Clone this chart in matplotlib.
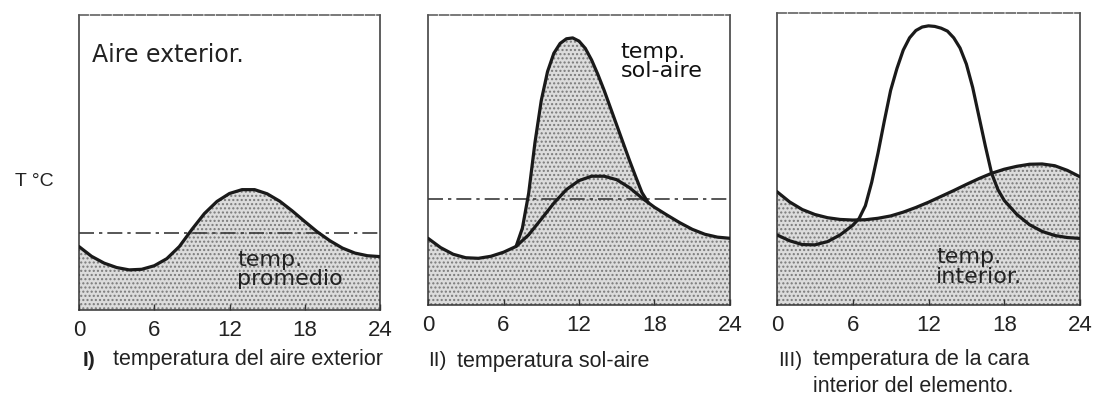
import matplotlib
matplotlib.use("Agg")
import matplotlib.pyplot as plt

# ---------------- data ----------------
hours = [0, 1, 2, 3, 4, 5, 6, 7, 8, 9, 10, 11, 12, 13, 14, 15, 16, 17, 18, 19, 20, 21, 22, 23, 24]
tick_hours = [0, 6, 12, 18, 24]
tick_labels = ["0", "6", "12", "18", "24"]

# Panel I: outdoor air temperature (relative units 0-100)
air_temp = [21.5, 18.2, 15.9, 14.4, 13.6, 13.8, 15.0, 17.4, 21.5, 27.3, 32.7, 36.8, 39.5,
            40.8, 40.8, 39.4, 36.9, 33.6, 30.0, 26.5, 23.5, 21.0, 19.3, 18.4, 18.1]
air_mean = 26.0

# Panel II: air temperature and sol-air temperature
air_temp2 = [23.0, 19.8, 17.5, 16.3, 16.1, 16.8, 18.2, 20.2, 24.2, 29.6, 35.1, 39.8, 42.9,
             44.4, 44.4, 43.2, 40.5, 36.9, 33.7, 31.0, 28.4, 26.1, 24.4, 23.4, 23.0]
solair_hours = [7.0, 7.5, 8.0, 8.5, 9.0, 9.5, 10.0, 10.5, 11.0, 11.5, 12.0, 12.5, 13.0,
                13.5, 14.0, 14.5, 15.0, 15.5, 16.0, 16.5, 17.0, 17.5]
solair_temp = [20.2, 26.5, 38.5, 56.0, 70.5, 80.5, 86.8, 90.2, 91.8, 92.1, 91.0, 88.5, 84.5,
               79.5, 74.0, 68.0, 62.0, 56.0, 50.0, 44.3, 38.8, 35.3]
sol_mean = 36.4

# Panel III: interior surface temperature and interior air temperature
surf_hours = [0, 1, 2, 3, 4, 5, 6, 6.5, 7, 7.5, 8, 8.5, 9, 9.5, 10, 10.5, 11, 11.5, 12, 12.5,
              13, 13.5, 14, 14.5, 15, 15.5, 16, 16.5, 17, 17.5, 18, 19, 20, 21, 22, 23, 24]
surf_temp = [24.0, 22.0, 20.7, 20.6, 21.7, 24.0, 27.3, 29.6, 34.0, 42.0, 52.0, 63.0, 73.5,
             81.0, 87.3, 91.5, 94.0, 95.2, 95.6, 95.4, 94.8, 93.8, 91.5, 88.0, 82.5, 74.5,
             64.5, 54.5, 45.1, 39.5, 35.8, 31.0, 27.5, 25.2, 23.8, 23.1, 22.8]
interior_temp = [38.8, 35.3, 32.7, 31.0, 29.9, 29.3, 29.1, 29.2, 29.7, 30.5, 31.8, 33.4, 35.2,
                 37.2, 39.2, 41.3, 43.3, 45.1, 46.5, 47.5, 48.2, 48.3, 47.7, 46.1, 43.9]

# ---------------- style ----------------
W, H = 1112, 401
fig = plt.figure(figsize=(W / 100, H / 100), dpi=100)
fig.patch.set_facecolor("white")
plt.rcParams["hatch.linewidth"] = 1.0
plt.rcParams["hatch.color"] = "#7a7a7a"

FILL_FC = "#dcdcdc"
HATCH = "...."
LINE_KW = dict(color="#1a1a1a", lw=2.3, solid_capstyle="round", solid_joinstyle="round", zorder=4)
DASH_KW = dict(color="#3a3a3a", lw=1.2, linestyle=(0, (9, 3, 2, 3)), zorder=3)
TICK_FONT = ["Liberation Sans Narrow", "Liberation Sans", "DejaVu Sans"]
LABEL_FONT = ["DejaVu Sans"]
CAP_FONT = ["Liberation Sans", "DejaVu Sans"]


def px_axes(l, t, r, b):
    return fig.add_axes([l / W, 1 - b / H, (r - l) / W, (b - t) / H])


def style(ax):
    ax.set_xlim(0, 24)
    ax.set_ylim(0, 100)
    ax.set_xticks(tick_hours)
    ax.set_xticklabels(tick_labels, family=TICK_FONT, fontsize=16, color="#222")
    ax.set_yticks([])
    ax.tick_params(axis="x", direction="in", length=4, width=1.0, pad=7, color="#333")
    for s in ax.spines.values():
        s.set_color("#333")
        s.set_linewidth(1.1)
    ax.spines["top"].set_linestyle((0, (6, 1.5)))
    ax.spines["top"].set_color("#555")
    ax.set_facecolor("white")


def fill(ax, x, y):
    ax.fill_between(x, 0, y, facecolor=FILL_FC, hatch=HATCH, edgecolor="#7a7a7a",
                    linewidth=0, zorder=1)


# Panel I
ax1 = px_axes(79, 15, 380, 310)
style(ax1)
fill(ax1, hours, air_temp)
ax1.plot(hours, air_temp, **LINE_KW)
ax1.axhline(air_mean, **DASH_KW)
ax1.text(1.0, 86.4, "Aire exterior.", family=LABEL_FONT, fontsize=17, color="#222",
         va="center", ha="left")
ax1.text(12.6, 13.6, "temp.\npromedio", family=LABEL_FONT, fontsize=16, color="#222",
         va="center", ha="left", linespacing=0.95, zorder=5)

# Panel II
ax2 = px_axes(428, 15, 730, 305)
style(ax2)
fill(ax2, hours, air_temp2)
fill(ax2, solair_hours, solair_temp)
ax2.plot(hours, air_temp2, **LINE_KW)
ax2.plot(solair_hours, solair_temp, **LINE_KW)
ax2.axhline(sol_mean, **DASH_KW)
ax2.text(15.3, 84.0, "temp.\nsol-aire", family=LABEL_FONT, fontsize=16, color="#111",
         va="center", ha="left", linespacing=0.95)

# Panel III
ax3 = px_axes(777, 13, 1080, 305)
style(ax3)
fill(ax3, hours, interior_temp)
ax3.plot(hours, interior_temp, **LINE_KW)
ax3.plot(surf_hours, surf_temp, **LINE_KW)
ax3.text(12.6, 13.0, "temp.\ninterior.", family=LABEL_FONT, fontsize=16, color="#222",
         va="center", ha="left", linespacing=0.95, zorder=5)

# Figure texts
fig.text(15 / W, 1 - 182 / H, "T °C", family=CAP_FONT, fontsize=14, color="#222",
         va="center", ha="left")
fig.text(83 / W, 1 - 360 / H, "I)", family=CAP_FONT, fontsize=15, color="#222",
         va="center", ha="left", fontweight="bold")
fig.text(113 / W, 1 - 360 / H, "temperatura del aire exterior", family=CAP_FONT,
         fontsize=15.5, color="#222", va="center", ha="left")
fig.text(428 / W, 1 - 361 / H, "II)", family=CAP_FONT, fontsize=15, color="#222",
         va="center", ha="left")
fig.text(457 / W, 1 - 361 / H, "temperatura sol-aire", family=CAP_FONT, fontsize=15.5,
         color="#222", va="center", ha="left")
fig.text(778 / W, 1 - 360 / H, "III)", family=CAP_FONT, fontsize=15, color="#222",
         va="center", ha="left")
fig.text(813 / W, 1 - 360 / H, "temperatura de la cara", family=CAP_FONT, fontsize=15.5,
         color="#222", va="center", ha="left")
fig.text(813 / W, 1 - 387 / H, "interior del elemento.", family=CAP_FONT, fontsize=15.5,
         color="#222", va="center", ha="left")

fig.savefig("out.png", dpi=100, facecolor="white")
